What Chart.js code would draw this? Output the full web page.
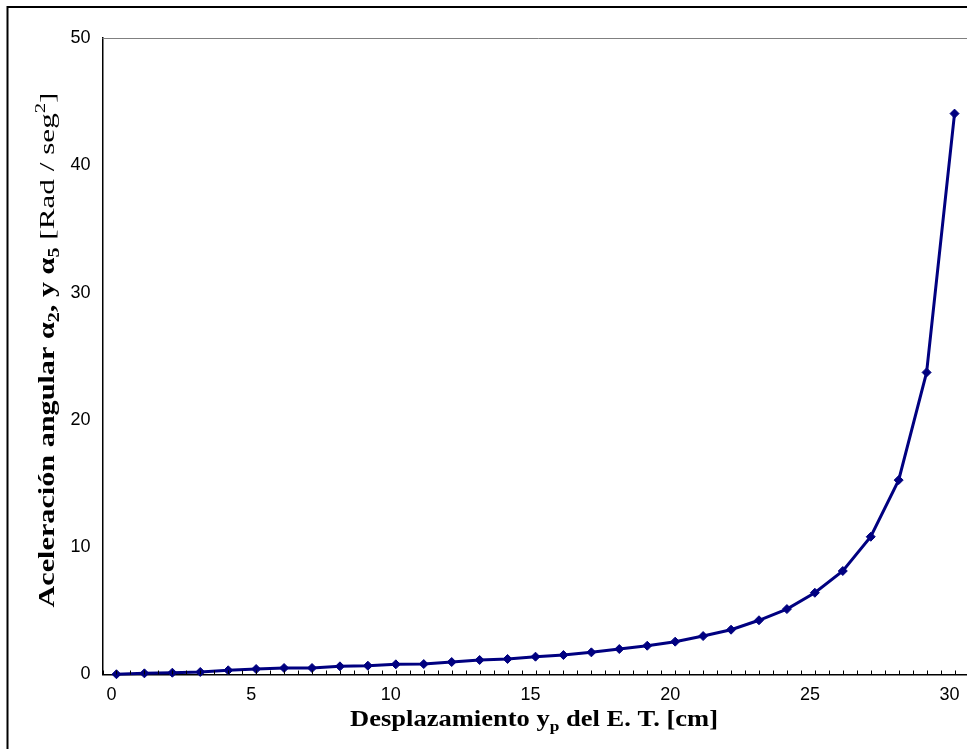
<!DOCTYPE html>
<html>
<head>
<meta charset="utf-8">
<script src="https://cdn.jsdelivr.net/npm/chart.js@4/dist/chart.umd.min.js"></script>
<style>
html,body{margin:0;padding:0;background:#fff;overflow:hidden;}
#wrap{position:relative;width:967px;height:749px;overflow:hidden;}
canvas{display:block;}
</style>
</head>
<body>
<div id="wrap"><canvas id="c" width="974" height="749"></canvas></div>
<script>
// Displacement y_p of E.T. [cm]
const xValues = [0.5, 1.5, 2.5, 3.5, 4.5, 5.5, 6.5, 7.5, 8.5, 9.5, 10.5, 11.5, 12.5, 13.5, 14.5, 15.5,
                 16.5, 17.5, 18.5, 19.5, 20.5, 21.5, 22.5, 23.5, 24.5, 25.5, 26.5, 27.5, 28.5, 29.5, 30.5];
// Angular acceleration [Rad/seg^2]
const yValues = [0.02, 0.09, 0.14, 0.20, 0.33, 0.43, 0.51, 0.51, 0.64, 0.69, 0.80, 0.82, 0.98, 1.14, 1.22, 1.40,
                 1.53, 1.74, 2.00, 2.26, 2.58, 3.02, 3.52, 4.26, 5.14, 6.42, 8.13, 10.82, 15.27, 23.73, 44.06];
const xTickLabels = [0, 5, 10, 15, 20, 25, 30];
const yTickLabels = [0, 10, 20, 30, 40, 50];

const SERIF = '"Liberation Serif", "Times New Roman", serif';
const SANS = '"Liberation Sans", Arial, sans-serif';

// groups of text runs: each group stretched to its own length
const xTitleGroups = [
  {len: 368, runs: [
    {text: 'Desplazamiento y', font: 'bold 23px ' + SERIF, dy: 0},
    {text: 'p', font: 'bold 15px ' + SERIF, dy: 5},
    {text: ' del E. T. [cm]', font: 'bold 23px ' + SERIF, dy: 0}
  ]}
];
const yTitleGroups = [
  {len: 360, runs: [
    {text: 'Aceleración angular α', font: 'bold 24px ' + SERIF, dy: 0},
    {text: '2', font: 'bold 16px ' + SERIF, dy: 5},
    {text: ', y α', font: 'bold 24px ' + SERIF, dy: 0},
    {text: '5', font: 'bold 16px ' + SERIF, dy: 5}
  ]},
  {len: 155, runs: [
    {text: ' [Rad / seg', font: '21px ' + SERIF, dy: 0},
    {text: '2', font: '14px ' + SERIF, dy: -9},
    {text: ']', font: '21px ' + SERIF, dy: 0}
  ]}
];

function drawGroups(ctx, groups, cx, cy, rot) {
  ctx.save();
  ctx.translate(cx, cy);
  ctx.rotate(rot);
  ctx.fillStyle = '#000';
  ctx.textAlign = 'left';
  ctx.textBaseline = 'alphabetic';
  let total = 0;
  groups.forEach(g => { total += g.len; });
  let start = -total / 2;
  groups.forEach(g => {
    let w = 0;
    g.runs.forEach(r => { ctx.font = r.font; r.w = ctx.measureText(r.text).width; w += r.w; });
    const sx = g.len / w;
    ctx.save();
    ctx.translate(start, 0);
    ctx.scale(sx, 1);
    let x = 0;
    g.runs.forEach(r => { ctx.font = r.font; ctx.fillText(r.text, x, r.dy); x += r.w; });
    ctx.restore();
    start += g.len;
  });
  ctx.restore();
}

const decor = {
  id: 'decor',
  afterDraw(chart) {
    const ctx = chart.ctx;
    const ca = chart.chartArea;
    const xs = chart.scales.x;
    ctx.save();
    // top plot border (gray)
    ctx.strokeStyle = '#808080';
    ctx.lineWidth = 1;
    ctx.beginPath();
    ctx.moveTo(ca.left, ca.top + 0.5);
    ctx.lineTo(chart.width, ca.top + 0.5);
    ctx.stroke();
    // minor inside ticks on x axis every 0.5
    ctx.strokeStyle = '#000';
    ctx.lineWidth = 1;
    ctx.beginPath();
    for (let k = 0; k <= 62; k++) {
      const px = Math.round(xs.getPixelForValue(k * 0.5)) + 0.5;
      ctx.moveTo(px, ca.bottom);
      ctx.lineTo(px, ca.bottom - 4);
    }
    ctx.stroke();
    // outer chart border
    ctx.strokeStyle = '#000';
    ctx.lineWidth = 2;
    ctx.beginPath();
    ctx.moveTo(7.5, chart.height + 5);
    ctx.lineTo(7.5, 7);
    ctx.lineTo(chart.width + 5, 7);
    ctx.stroke();
    ctx.restore();
    // axis titles
    drawGroups(ctx, xTitleGroups, 534, 726, 0);
    drawGroups(ctx, yTitleGroups, 54, 350, -Math.PI / 2);
  }
};

new Chart(document.getElementById('c'), {
  type: 'scatter',
  data: {
    datasets: [{
      data: xValues.map((x, i) => ({x: x, y: yValues[i]})),
      showLine: true,
      borderColor: '#000080',
      backgroundColor: '#000080',
      borderWidth: 3,
      pointStyle: 'rectRot',
      pointRadius: 4.5,
      pointBorderWidth: 1,
      pointBorderColor: '#000080',
      pointBackgroundColor: '#000080',
      tension: 0,
      clip: false
    }]
  },
  options: {
    responsive: false,
    devicePixelRatio: 1,
    animation: false,
    layout: {padding: {top: 38, left: 0, right: 0, bottom: 0}},
    plugins: {legend: {display: false}, tooltip: {enabled: false}, title: {display: false}},
    scales: {
      x: {
        type: 'linear',
        position: 'bottom',
        min: 0,
        max: 31,
        grid: {display: false, drawTicks: false},
        border: {display: true, color: '#000', width: 1.5},
        ticks: {
          stepSize: 5,
          includeBounds: false,
          autoSkip: false,
          maxRotation: 0,
          padding: 10,
          labelOffset: 9,
          color: '#000',
          font: {family: SANS, size: 18},
          callback: v => xTickLabels.includes(v) ? String(v) : ''
        },
        afterFit(s) { s.height = 74.5; s.paddingLeft = 0; s.paddingRight = 0; }
      },
      y: {
        type: 'linear',
        min: 0,
        max: 50,
        grid: {display: false, drawTicks: false},
        border: {display: true, color: '#000', width: 1.5},
        ticks: {
          stepSize: 10,
          padding: 12,
          color: '#000',
          font: {family: SANS, size: 18},
          callback: v => yTickLabels.includes(v) ? String(v) : ''
        },
        afterFit(s) { s.width = 102.5; }
      }
    }
  },
  plugins: [decor]
});
</script>
</body>
</html>
